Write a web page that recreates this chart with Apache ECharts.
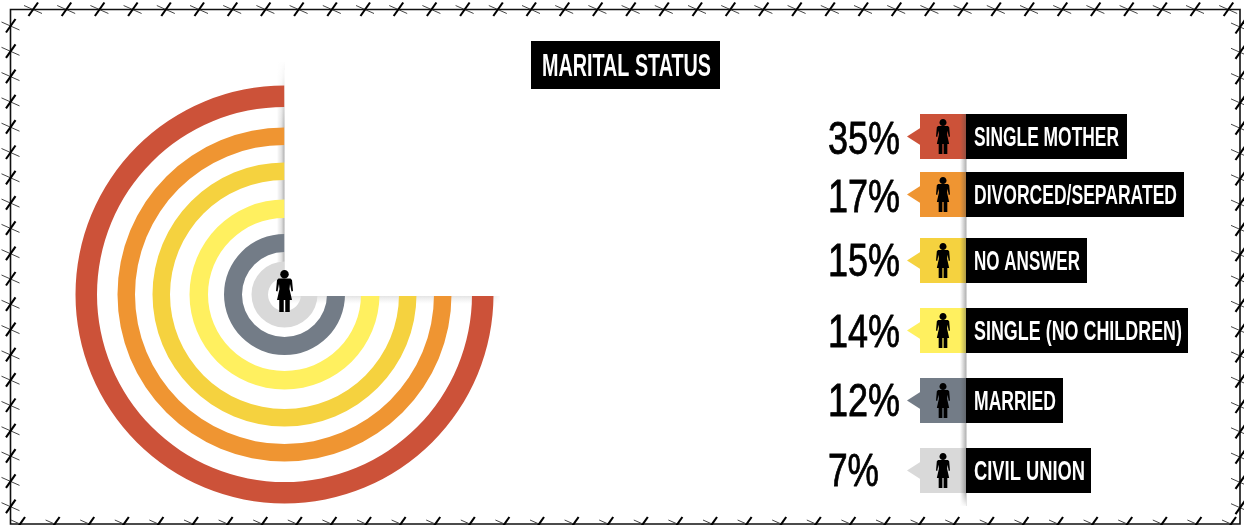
<!DOCTYPE html>
<html><head><meta charset="utf-8">
<style>html,body{margin:0;padding:0;background:#fff}#c{width:1244px;height:525px}</style>
<script src="https://cdn.jsdelivr.net/npm/echarts@6/dist/echarts.min.js"></script>
</head><body><div id="c"></div>
<script>
const titleText = 'MARITAL STATUS';
const categories = ['SINGLE MOTHER','DIVORCED/SEPARATED','NO ANSWER','SINGLE (NO CHILDREN)','MARRIED','CIVIL UNION'];
const percents = [35,17,15,14,12,7];
const colors = ['#CC5239','#EF9532','#F5D23F','#FFF05F','#737C87','#D9D9D9'];
const ringSweep = [270,270,270,270,270,270];
const ringRadii = [[187.5,209],[149.5,167],[114.5,132],[76.5,95],[42.5,60.5],[16.5,33]];
const rowCenters = [136.5,194.5,260.5,330.5,400.5,470.5];
const percentCenters = [138,196,260,331,400,470];
const boxRights = [1127,1184,1087,1188,1063,1091];
const labelWidths = [145,203,106,208,82,111];
const percentWidths = [72,72,72,72,72,51];
const FONT = '"Liberation Sans Narrow","Liberation Sans",sans-serif';
const WOMAN_BODY = [[5,17],[29,17],[32,20],[34,42],[31,43],[28,28],[27,38],[32,60],[27.5,60],[27.5,84],[18.5,84],[18.5,60],[15.5,60],[15.5,84],[6.5,84],[6.5,60],[2,60],[7,38],[6,28],[3,43],[0,42],[2,20]];

const mc = document.createElement('canvas').getContext('2d');
function fitText(text,x,y,w,font,fill,z,extra){
  mc.font = font;
  return {type:'text',x,y,z,scaleX:w/mc.measureText(text).width,silent:true,
    style:Object.assign({text,font,fill,align:'left',verticalAlign:'middle'},extra||{})};
}
function woman(cx,cy,w,h,z){
  const sx=w/34, sy=h/84, x0=cx-w/2, y0=cy-h/2;
  return [
    {type:'ellipse',z,silent:true,shape:{cx:cx,cy:y0+8.5*sy,rx:8.5*sx,ry:8.5*sy},style:{fill:'#000'}},
    {type:'polygon',z,silent:true,shape:{points:WOMAN_BODY.map(p=>[x0+p[0]*sx,y0+p[1]*sy])},style:{fill:'#000'}}
  ];
}
function grad(x0,y0,x1,y1,stops){
  return {type:'linear',x:x0,y:y0,x2:x1,y2:y1,colorStops:stops.map(s=>({offset:s[0],color:s[1]}))};
}
const g = [];
// ---- barbed wire frame
const L=10.5,T=9.5,R=1240,B=524;
g.push({type:'rect',z:1,silent:true,shape:{x:L,y:T,width:R-L,height:B-T},style:{fill:'none',stroke:'#111',lineWidth:1.6}});
function barb(x,y){
  g.push({type:'line',z:1,silent:true,shape:{x1:x-9,y1:y-4,x2:x+9,y2:y+4},style:{stroke:'#444',lineWidth:1}});
  g.push({type:'line',z:1,silent:true,shape:{x1:x-4.5,y1:y+6.5,x2:x+5,y2:y-7},style:{stroke:'#000',lineWidth:2.1}});
}
for(let i=0;i<37;i++){barb(33+i*33.2,T);}
for(let i=0;i<36;i++){barb(20+i*34.6,B);}
for(let i=0;i<20;i++){barb(L,26+i*25.3);barb(R,27+i*25.3);}
// ---- soft shadows beneath the rings
g.push({type:'rect',z:1,silent:true,shape:{x:277,y:62,width:8,height:234},
  style:{fill:grad(0,0,1,0,[[0,'rgba(140,140,140,0)'],[0.5,'rgba(170,170,170,.3)'],[1,'rgba(130,130,130,.75)']])}});
g.push({type:'rect',z:1,silent:true,shape:{x:277,y:60,width:8,height:70},
  style:{fill:grad(0,0,0,1,[[0,'#fff'],[0.25,'rgba(255,255,255,.85)'],[1,'rgba(255,255,255,0)']])}});
g.push({type:'rect',z:1,silent:true,shape:{x:285,y:296,width:215,height:8},
  style:{fill:grad(0,0,0,1,[[0,'rgba(170,170,170,.32)'],[1,'rgba(200,200,200,0)']])}});
g.push({type:'rect',z:1,silent:true,shape:{x:490,y:296,width:12,height:8},
  style:{fill:grad(0,0,1,0,[[0,'rgba(255,255,255,0)'],[1,'#fff']])}});
// ---- white quadrant hiding the ring ends
g.push({type:'rect',z:10,silent:true,shape:{x:284.5,y:70,width:220,height:226},style:{fill:'#fff'}});
g.push(...woman(284.5,291,17,42,11));
// ---- title
g.push({type:'rect',z:5,silent:true,shape:{x:531,y:41,width:189,height:48},style:{fill:'#000'}});
g.push(fitText(titleText,542,67,169,'bold 31px '+FONT,'#fff',6));
// ---- rows
categories.forEach((name,i)=>{
  const c=rowCenters[i];
  g.push({type:'polygon',z:5,silent:true,shape:{points:[[907,c],[921,c-9],[921,c+9]]},style:{fill:colors[i]}});
  g.push({type:'rect',z:5,silent:true,shape:{x:920,y:c-22.5,width:46,height:45},style:{fill:colors[i]}});
  g.push({type:'rect',z:8,silent:true,shape:{x:966,y:c-22.5,width:boxRights[i]-966,height:45},style:{fill:'#000'}});
  g.push(...woman(943,c,14,35,9));
  g.push(fitText(name,974,c+2.5,labelWidths[i],'bold 27px '+FONT,'#fff',9));
  g.push(fitText(percents[i]+'%',828,percentCenters[i]+3.5,percentWidths[i],'46px '+FONT,'#000',9,{stroke:'#000',lineWidth:0.8}));
});
g.push({type:'rect',z:7,silent:true,shape:{x:960,y:114,width:6.5,height:392},
  style:{fill:grad(0,0,1,0,[[0,'rgba(90,90,90,0)'],[1,'rgba(70,70,70,.45)'] ])}});
g.push({type:'rect',z:7,silent:true,shape:{x:960,y:493,width:6.5,height:14},
  style:{fill:grad(0,0,0,1,[[0,'rgba(255,255,255,0)'],[1,'#fff']])}});

const series = percents.map((p,i)=>({
  type:'pie',name:categories[i],z:3,center:[284.5,294.5],radius:ringRadii[i],
  startAngle:90,clockwise:false,silent:true,animation:false,
  label:{show:false},labelLine:{show:false},
  emphasis:{disabled:true},
  data:[{name:categories[i],value:ringSweep[i],itemStyle:{color:colors[i]}},
        {name:'',value:360-ringSweep[i],itemStyle:{color:'rgba(0,0,0,0)'}}]
}));
const chart = echarts.init(document.getElementById('c'),null,{renderer:'canvas'});
chart.setOption({animation:false,backgroundColor:'#fff',tooltip:{show:false},series,graphic:{elements:g}});
</script></body></html>
